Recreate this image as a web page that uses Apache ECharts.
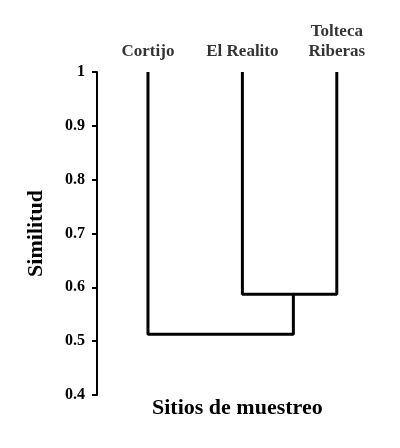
<!DOCTYPE html>
<html><head><meta charset="utf-8">
<script src="https://cdn.jsdelivr.net/npm/echarts@6/dist/echarts.min.js"></script>
<style>html,body{margin:0;background:#fff}#c{width:400px;height:448px}</style>
</head><body><div id="c"></div>
<script>
// sitios (hojas) y su posicion en x
var sitios = ['Cortijo', 'El Realito', 'Tolteca\nRiberas'];
var sitioX = [1, 2, 3];
// uniones del dendrograma: [xa, ha, xb, hb, altura]
var uniones = [
  [2, 1, 3, 1, 0.587],
  [1, 1, 2.54, 0.587, 0.513]
];
var yTicks = [0.4, 0.5, 0.6, 0.7, 0.8, 0.9, 1];

var font = '"Liberation Serif", "Times New Roman", serif';
var series = uniones.map(function (u) {
  return {
    type: 'line', symbol: 'none', silent: true,
    lineStyle: { color: '#000', width: 3 },
    data: [[u[0], u[1]], [u[0], u[4]], [u[2], u[4]], [u[2], u[3]]]
  };
});
series.push({
  type: 'scatter', symbolSize: 0,
  data: sitioX.map(function (x, i) { return { value: [x, 1], name: sitios[i] }; }),
  label: { show: true, position: 'top', distance: 10, formatter: '{b}',
    color: '#000', fontFamily: font, fontWeight: 'bold', fontSize: 17, lineHeight: 20 }
});

var chart = echarts.init(document.getElementById('c'));
chart.setOption({
  backgroundColor: '#fff',
  animation: false,
  grid: { left: 97, right: 16, top: 72, bottom: 53 },
  xAxis: { type: 'value', min: 0.46, max: 3.5, show: false },
  yAxis: {
    type: 'value', min: 0.4, max: 1, interval: 0.1,
    name: 'Similitud', nameLocation: 'middle', nameGap: 50,
    nameTextStyle: { color: '#000', fontFamily: font, fontWeight: 'bold', fontSize: 22 },
    axisLine: { show: true, lineStyle: { color: '#000', width: 2 } },
    axisTick: { show: true, length: 5, lineStyle: { color: '#000', width: 2 } },
    splitLine: { show: false },
    axisLabel: { color: '#000', fontFamily: font, fontWeight: 'bold', fontSize: 16, margin: 12,
      formatter: function (v) { return String(Math.round(v * 10) / 10); } }
  },
  graphic: [{
    type: 'text', left: 152, top: 397,
    style: { text: 'Sitios de muestreo', fill: '#000', font: 'bold 22px ' + font }
  }],
  series: series
});
</script></body></html>
